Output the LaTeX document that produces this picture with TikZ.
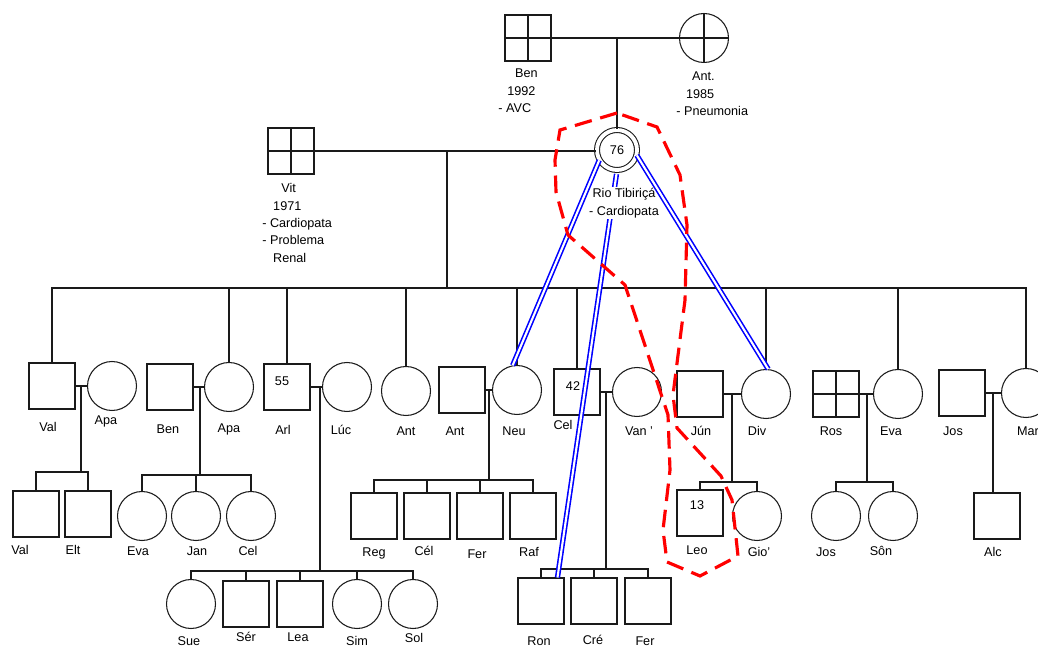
\documentclass[tikz,border=0pt]{standalone}
\usepackage{fontspec}
\setmainfont{Liberation Sans}
\usepackage{tikz}
\usetikzlibrary{positioning,calc}
\definecolor{ink}{HTML}{1a1a1a}
\definecolor{tieblue}{HTML}{0000ff}
\definecolor{homered}{HTML}{ff0000}

\begin{document}
\begin{tikzpicture}[
  x=0.02cm,y=-0.02cm,
  font=\fontsize{7.2}{9.9}\selectfont,
  male/.style={draw=ink,line width=0.6pt,minimum size=0.92cm,inner sep=0pt,fill=white},
  female/.style={male,circle,minimum size=0.98cm},
  died/.style={path picture={\draw[ink,line width=0.6pt] (path picture bounding box.north) -- (path picture bounding box.south) (path picture bounding box.west) -- (path picture bounding box.east);}},
  proband/.style={female,double,double distance=2.2pt,minimum size=0.8cm},
  ln/.style={draw=ink,line width=0.6pt},
  tie/.style={draw=tieblue,double=white,double distance=1.2pt,line width=0.9pt},
  home/.style={draw=homered,line width=1.8pt,dash pattern=on 10pt off 5pt},
  lbl/.style={inner sep=0pt,align=center},
  num/.style={inner sep=0pt}]
  \useasboundingbox (0,0) rectangle (1038,648);
  % grandparents
  \node[male,died] (ben) at (528,38) {};
  \node[female,died] (ant) at (704,38) {};
  \node[proband] (rio) at (617,150) {76};
  \node[male,died] (vit) at (291,151) {};
  \node[lbl,anchor=west,align=left] (benT) at (498,91) {\hspace{9.6pt}Ben\\\hspace{5.1pt}1992\\- AVC};
  \node[lbl,anchor=west,align=left] (antT) at (676,94) {\hspace{9pt}Ant.\\\hspace{5.5pt}1985\\- Pneumonia};
  \node[lbl,anchor=west,align=left] (vitT) at (262,223) {\hspace{10.8pt}Vit\\\hspace{6.2pt}1971\\- Cardiopata\\- Problema\\\hspace{6.2pt}Renal};
  % children of Vit and Rio
  \node[male] (val) at (52,386) {};
  \node[female] (apaA) at (112,386) {};
  \node[male] (benA) at (170,387) {};
  \node[female] (apaB) at (229,387) {};
  \node[male] (arl) at (287,387) {};
  \node[female] (luc) at (347,387) {};
  \node[female] (antA) at (406,391) {};
  \node[male] (antB) at (462,390) {};
  \node[female] (neu) at (517,390) {};
  \node[male] (cel) at (577,392) {};
  \node[female] (van) at (637,392) {};
  \node[male] (jun) at (700,394) {};
  \node[female] (div) at (766,394) {};
  \node[male,died] (ros) at (836,394) {};
  \node[female] (evaA) at (898,394) {};
  \node[male] (josA) at (962,393) {};
  \node[female] (mar) at (1026,393) {};
  \node[num] (n55) at (282,381) {55};
  \node[num] (n42) at (573,386) {42};
  % grandchildren
  \node[male] (valB) at (36,514) {};
  \node[male] (elt) at (88,514) {};
  \node[female] (evaB) at (142,516) {};
  \node[female] (jan) at (196,516) {};
  \node[female] (celB) at (251,516) {};
  \node[female] (sue) at (191,604) {};
  \node[male] (ser) at (246,604) {};
  \node[male] (lea) at (300,604) {};
  \node[female] (sim) at (357,604) {};
  \node[female] (sol) at (413,604) {};
  \node[male] (reg) at (374,516) {};
  \node[male] (celC) at (427,516) {};
  \node[male] (ferA) at (480,516) {};
  \node[male] (raf) at (533,516) {};
  \node[male] (ron) at (541,601) {};
  \node[male] (cre) at (594,601) {};
  \node[male] (ferB) at (648,601) {};
  \node[male] (leo) at (700,513) {};
  \node[female] (gio) at (757,516) {};
  \node[female] (josB) at (836,516) {};
  \node[female] (son) at (893,516) {};
  \node[male] (alc) at (997,516) {};
  \node[num] (n13) at (697,505) {13};
  % names
  \node[lbl] (valT) at (48,427) {Val};
  \node[lbl] (apaAT) at (106,421) {Apa};
  \node[lbl] (benAT) at (168,429) {Ben};
  \node[lbl] (apaBT) at (229,429) {Apa};
  \node[lbl] (arlT) at (283,430) {Arl};
  \node[lbl] (lucT) at (341,430) {Lúc};
  \node[lbl] (antAT) at (406,431) {Ant};
  \node[lbl] (antBT) at (455,431) {Ant};
  \node[lbl] (neuT) at (514,431) {Neu};
  \node[lbl] (celT) at (563,425) {Cel};
  \node[lbl] (vanT) at (639,431) {Van '};
  \node[lbl] (junT) at (701,431) {Jún};
  \node[lbl] (divT) at (757,431) {Div};
  \node[lbl] (rosT) at (831,431) {Ros};
  \node[lbl] (evaAT) at (891,431) {Eva};
  \node[lbl] (josAT) at (953,431) {Jos};
  \node[lbl] (marT) at (1028,431) {Mar};
  \node[lbl] (valBT) at (20,550) {Val};
  \node[lbl] (eltT) at (73,550) {Elt};
  \node[lbl] (evaBT) at (138,551) {Eva};
  \node[lbl] (janT) at (197,551) {Jan};
  \node[lbl] (celBT) at (248,551) {Cel};
  \node[lbl] (regT) at (374,553) {Reg};
  \node[lbl] (celCT) at (424,551) {Cél};
  \node[lbl] (ferAT) at (477,554) {Fer};
  \node[lbl] (rafT) at (529,552) {Raf};
  \node[lbl] (leoT) at (697,550) {Leo};
  \node[lbl] (gioT) at (759,552) {Gio'};
  \node[lbl] (josBT) at (826,552) {Jos};
  \node[lbl] (sonT) at (881,551) {Sôn};
  \node[lbl] (alcT) at (993,552) {Alc};
  \node[lbl] (sueT) at (189,641) {Sue};
  \node[lbl] (serT) at (246,637) {Sér};
  \node[lbl] (leaT) at (298,637) {Lea};
  \node[lbl] (simT) at (357,641) {Sim};
  \node[lbl] (solT) at (414,638) {Sol};
  \node[lbl] (ronT) at (539,641) {Ron};
  \node[lbl] (creT) at (593,640) {Cré};
  \node[lbl] (ferBT) at (645,641) {Fer};
  % unions and sibling bars
  \coordinate (mtop) at (617,38);
  \coordinate (mvr) at (447,151);
  \coordinate (bvr) at (447,288);
  \coordinate (mva) at (81,386);
  \coordinate (bva) at (81,472);
  \coordinate (mba) at (200,387);
  \coordinate (bba) at (200,475);
  \coordinate (mal) at (320,387);
  \coordinate (bal) at (320,571);
  \coordinate (man) at (489,390);
  \coordinate (ban) at (489,480);
  \coordinate (mcv) at (606,392);
  \coordinate (bcv) at (606,569);
  \coordinate (mjd) at (732,394);
  \coordinate (bjd) at (732,482);
  \coordinate (mre) at (867,394);
  \coordinate (bre) at (867,482);
  \coordinate (mjm) at (993,393);
  \draw[ln] (ben) -- (ant);
  \draw[ln] (mtop) -- (mtop |- rio.north);
  \draw[ln] (vit.east) -- (vit.east -| rio.west);
  \draw[ln] (mvr) -- (bvr);
  \draw[ln] (val.north) |- (bvr) -| (mar.north);
  \draw[ln] (apaB.north) -- (apaB.north |- bvr) (arl.north) -- (arl.north |- bvr)
    (antA.north) -- (antA.north |- bvr) (neu.north) -- (neu.north |- bvr)
    (cel.north) -- (cel.north |- bvr) (div.north) -- (div.north |- bvr)
    (evaA.north) -- (evaA.north |- bvr);
  \draw[ln] (val) -- (apaA);
  \draw[ln] (mva) -- (bva);
  \draw[ln] (valB.north) |- (bva) -| (elt.north);
  \draw[ln] (benA) -- (apaB);
  \draw[ln] (mba) -- (bba);
  \draw[ln] (evaB.north) |- (bba) -| (celB.north);
  \draw[ln] (jan.north) -- (jan.north |- bba);
  \draw[ln] (arl) -- (luc);
  \draw[ln] (mal) -- (bal);
  \draw[ln] (sue.north) |- (bal) -| (sol.north);
  \draw[ln] (ser.north) -- (ser.north |- bal) (lea.north) -- (lea.north |- bal)
    (sim.north) -- (sim.north |- bal);
  \draw[ln] (antB) -- (neu);
  \draw[ln] (man) -- (ban);
  \draw[ln] (reg.north) |- (ban) -| (raf.north);
  \draw[ln] (celC.north) -- (celC.north |- ban) (ferA.north) -- (ferA.north |- ban);
  \draw[ln] (cel) -- (van);
  \draw[ln] (mcv) -- (bcv);
  \draw[ln] (ron.north) |- (bcv) -| (ferB.north);
  \draw[ln] (cre.north) -- (cre.north |- bcv);
  \draw[ln] (jun) -- (div);
  \draw[ln] (mjd) -- (bjd);
  \draw[ln] (leo.north) |- (bjd) -| (gio.north);
  \draw[ln] (ros) -- (evaA);
  \draw[ln] (mre) -- (bre);
  \draw[ln] (josB.north) |- (bre) -| (son.north);
  \draw[ln] (josA) -- (mar);
  \draw[ln] (mjm) -- (mjm |- alc.north);
  % close ties
  \draw[tie,shorten <=2pt] (rio.south) -- (ron.55);
  \node[lbl,fill=white,inner sep=1pt] (rioT) at (624,203) {\fontsize{7.2}{8.6}\selectfont Rio Tibiriçá\\- Cardiopata};
  \draw[tie] (rio.210) -- (neu.100);
  \draw[tie] (rio.345) -- (div.85);
  % household
  \draw[home] (617,113) -- (560,130) -- (555,160) -- (556,192) -- (568,235) -- (625,285)
    -- (668,415) -- (670,470) -- (663,530) -- (667,562) -- (700,576) -- (738,556)
    -- (732,500) -- (721,476) -- (677,428) -- (673,395) -- (685,300) -- (687,225)
    -- (680,175) -- (657,127) -- cycle;
\end{tikzpicture}
\end{document}
